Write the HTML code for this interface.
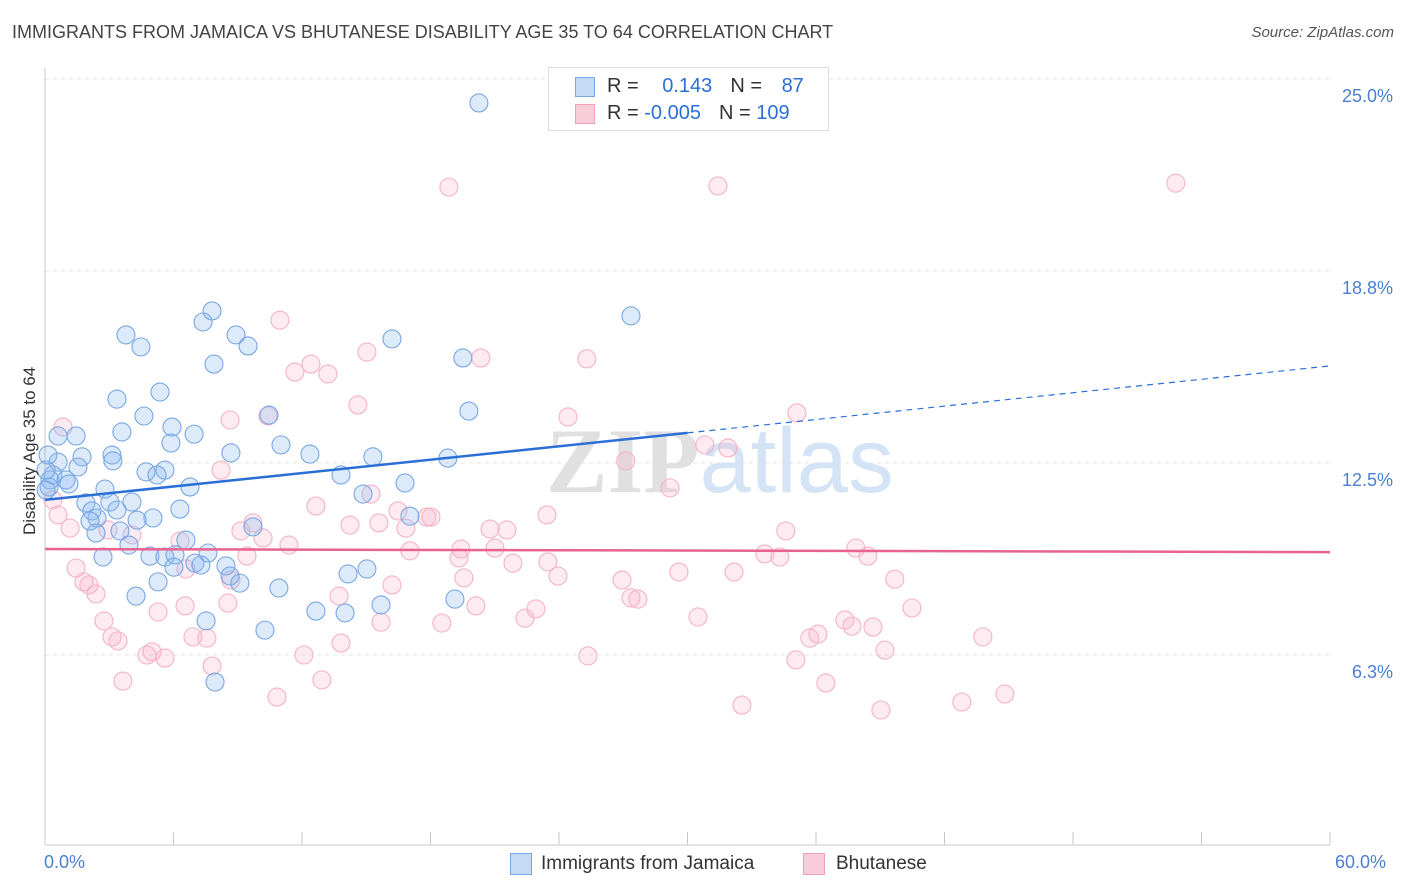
<!DOCTYPE html>
<html><head><meta charset="utf-8">
<style>
body{margin:0;background:#fff;font-family:"Liberation Sans",sans-serif;}
#wrap{position:relative;width:1406px;height:892px;overflow:hidden;}
.t{position:absolute;white-space:nowrap;}
</style></head>
<body>
<div id="wrap">
<div class="t" style="left:12px;top:22px;font-size:18px;color:#444;">IMMIGRANTS FROM JAMAICA VS BHUTANESE DISABILITY AGE 35 TO 64 CORRELATION CHART</div>
<div class="t" style="right:12px;top:24px;font-size:15px;color:#555;font-style:italic;">Source: ZipAtlas.com</div>
<svg id="plot" width="1406" height="892" style="position:absolute;left:0;top:0"></svg>
</div>
<script>
const xTicks=[0,6,12,18,24,30,36,42,48,54,60];
const yGrid=[6.25,12.5,18.75,25];
const yTickLabels=["6.3%","12.5%","18.8%","25.0%"];
const blueX=[20.26,27.36,7.80,7.38,3.78,4.48,8.92,9.48,7.89,16.20,19.51,5.37,3.36,4.62,10.46,19.79,5.93,6.96,3.59,0.61,1.45,5.88,11.02,8.68,12.37,15.31,18.81,3.13,3.17,1.73,0.61,1.54,4.72,5.60,5.23,13.82,0.37,0.98,1.12,0.19,6.77,2.80,14.85,16.81,1.91,3.03,4.06,3.36,6.30,2.19,2.43,2.10,5.04,4.30,2.38,3.50,9.71,3.92,6.58,4.90,5.60,6.07,7.61,7.00,7.28,6.02,8.45,8.64,9.10,5.28,10.92,14.15,15.03,4.25,12.65,14.01,15.69,19.14,7.52,10.27,7.94,2.71,0.23,0.05,17.04,0.05,0.14];
const blueY=[24.22,17.29,17.45,17.09,16.67,16.28,16.67,16.31,15.72,16.54,15.92,14.81,14.58,14.03,14.06,14.19,13.67,13.44,13.51,13.38,13.38,13.15,13.09,12.83,12.79,12.70,12.66,12.76,12.57,12.70,12.53,12.37,12.21,12.27,12.11,12.11,12.11,11.95,11.82,11.72,11.72,11.65,11.49,11.85,11.20,11.23,11.23,10.97,11.00,10.94,10.71,10.61,10.71,10.64,10.22,10.29,10.42,9.83,9.99,9.47,9.44,9.51,9.57,9.24,9.18,9.11,9.15,8.82,8.59,8.63,8.43,8.89,9.05,8.17,7.68,7.62,7.88,8.07,7.36,7.06,5.37,9.44,11.95,11.62,10.77,12.27,12.76];
const pinkX=[18.86,31.42,52.80,10.97,12.42,13.21,15.03,20.35,25.30,11.67,8.64,10.41,14.61,24.42,35.11,30.81,31.89,27.12,8.22,29.18,15.22,12.65,23.44,16.48,17.83,18.02,14.24,15.59,16.85,9.71,9.15,20.78,21.57,34.59,4.06,6.30,10.18,11.39,17.04,19.42,21.01,19.33,37.86,38.42,33.61,34.31,9.43,21.85,23.48,1.45,2.05,1.82,2.38,6.58,8.68,16.20,19.56,23.95,26.94,29.60,32.17,39.68,27.36,27.68,13.73,22.92,20.12,8.54,6.54,5.28,40.48,15.69,22.41,18.53,30.49,37.35,38.66,2.75,37.68,36.09,35.71,3.13,3.41,6.91,7.56,13.82,43.79,39.22,5.00,5.60,4.76,12.09,7.80,25.35,35.06,3.64,12.93,10.83,36.46,32.54,39.03,42.81,44.82,0.84,0.37,1.17,0.61,2.94];
const pinkY=[21.48,21.52,21.61,17.15,15.72,15.40,16.11,15.92,15.89,15.46,13.90,14.03,14.39,14.00,14.13,13.09,12.99,12.57,12.27,11.69,11.49,11.10,10.81,10.94,10.74,10.74,10.48,10.55,10.38,10.55,10.29,10.35,10.32,10.29,10.16,9.96,10.06,9.83,9.64,9.70,9.73,9.41,9.73,9.47,9.54,9.44,9.47,9.24,9.28,9.08,8.53,8.63,8.24,9.05,8.69,8.53,8.76,8.82,8.69,8.95,8.95,8.72,8.11,8.07,8.17,7.75,7.85,7.94,7.85,7.65,7.78,7.32,7.45,7.29,7.49,7.39,7.16,7.36,7.19,6.93,6.80,6.84,6.71,6.84,6.80,6.64,6.84,6.41,6.35,6.15,6.25,6.25,5.89,6.22,6.09,5.40,5.44,4.88,5.34,4.62,4.46,4.72,4.98,13.67,11.30,10.38,10.81,10.32];
const blueTrend=[11.30,15.66];
const pinkTrend=[9.70,9.60];
const X0=45,X1=1330,Y0=847,PXPER=30.72;
function sx(v){return X0+(v/60)*(X1-X0);}
function sy(v){return Y0-v*PXPER;}
const svg=document.getElementById('plot');
const NS='http://www.w3.org/2000/svg';
function mk(tag,attrs){const e=document.createElementNS(NS,tag);for(const k in attrs)e.setAttribute(k,attrs[k]);svg.appendChild(e);return e;}
yGrid.forEach((v,i)=>{
  const l=mk('line',{x1:45,x2:1330,y1:sy(v),y2:sy(v),stroke:'#e4e4e4','stroke-dasharray':'4 4'});
  
  
  const t=mk('text',{x:1393,y:sy(v)+23,'text-anchor':'end','font-size':18,fill:'#4a7fd4','font-family':'Liberation Sans'});
  t.textContent=yTickLabels[i];
  
  
});
const ax=mk('line',{x1:45,x2:45,y1:68,y2:845,stroke:'#c8c8c8'});


const bx=mk('line',{x1:45,x2:1330,y1:845,y2:845,stroke:'#c8c8c8'});


xTicks.forEach(v=>{
  const l=mk('line',{x1:sx(v),x2:sx(v),y1:832,y2:845,stroke:'#c8c8c8'});
  
  
});
const wm=mk('text',{x:720,y:492,'text-anchor':'middle','font-size':92,'font-family':'Liberation Serif',fill:'#e0e0e0'});
wm.innerHTML='<tspan font-weight="bold" fill="#e0e0e0">ZIP</tspan><tspan font-family="Liberation Sans" fill="#d4e3f5">atlas</tspan>';


pinkX.forEach((v,i)=>{
  const c=mk('circle',{cx:sx(v),cy:sy(pinkY[i]),r:9,fill:'rgba(246,175,200,0.25)',stroke:'#f4b2c7','stroke-width':1.1});
  
  
});
blueX.forEach((v,i)=>{
  const c=mk('circle',{cx:sx(v),cy:sy(blueY[i]),r:9,fill:'rgba(140,185,240,0.3)',stroke:'#79a7e4','stroke-width':1.1});
  
  
});
const bs=mk('line',{x1:sx(0),y1:sy(blueTrend[0]),x2:sx(30),y2:sy(blueTrend[0]+(blueTrend[1]-blueTrend[0])/2),stroke:'#2a6fd6','stroke-width':2.5});


const bd=mk('line',{x1:sx(30),y1:sy(blueTrend[0]+(blueTrend[1]-blueTrend[0])/2),x2:sx(60),y2:sy(blueTrend[1]),stroke:'#2a6fd6','stroke-width':1.2,'stroke-dasharray':'6 5'});


const pl=mk('line',{x1:sx(0),y1:sy(pinkTrend[0]),x2:sx(60),y2:sy(pinkTrend[1]),stroke:'#e8638f','stroke-width':2.5});


</script>
<div class="t" style="left:44px;top:852px;font-size:18px;color:#4a7fd4;">0.0%</div>
<div class="t" style="left:1335px;top:852px;font-size:18px;color:#4a7fd4;">60.0%</div>
<div class="t" style="left:-50px;top:445px;font-size:17px;color:#333;transform:rotate(-90deg);width:160px;text-align:center;">Disability Age 35 to 64</div>
<div style="position:absolute;left:548px;top:67px;width:279px;height:62px;border:1px solid #ddd;background:#fff;font-size:20px;">
  <div style="position:absolute;left:26px;top:9px;width:18px;height:18px;background:#c5daf5;border:1px solid #7aa6e0;"></div>
  <div class="t" style="left:58px;top:7px;color:#333;">R = <span style="color:#2a6fd6;margin-left:18px;">0.143</span><span style="margin-left:18px;">N = </span><span style="color:#2a6fd6;margin-left:14px;">87</span></div>
  <div style="position:absolute;left:26px;top:36px;width:18px;height:18px;background:#f9ccd9;border:1px solid #ef9fb8;"></div>
  <div class="t" style="left:58px;top:34px;color:#333;">R = <span style="color:#2a6fd6;">-0.005</span><span style="margin-left:18px;">N = </span><span style="color:#2a6fd6;">109</span></div>
</div>
<div style="position:absolute;left:510px;top:852px;font-size:19px;color:#333;">
  <div style="position:absolute;left:0;top:0;width:280px;"><span style="position:absolute;left:0;top:1px;width:20px;height:20px;background:#c5daf5;border:1px solid #7aa6e0;"></span><span class="t" style="left:31px;top:1px;">Immigrants from Jamaica</span></div>
  <div style="position:absolute;left:293px;top:0;width:150px;"><span style="position:absolute;left:0;top:1px;width:20px;height:20px;background:#f9ccd9;border:1px solid #ef9fb8;"></span><span class="t" style="left:33px;top:1px;">Bhutanese</span></div>
</div>
</body></html>
